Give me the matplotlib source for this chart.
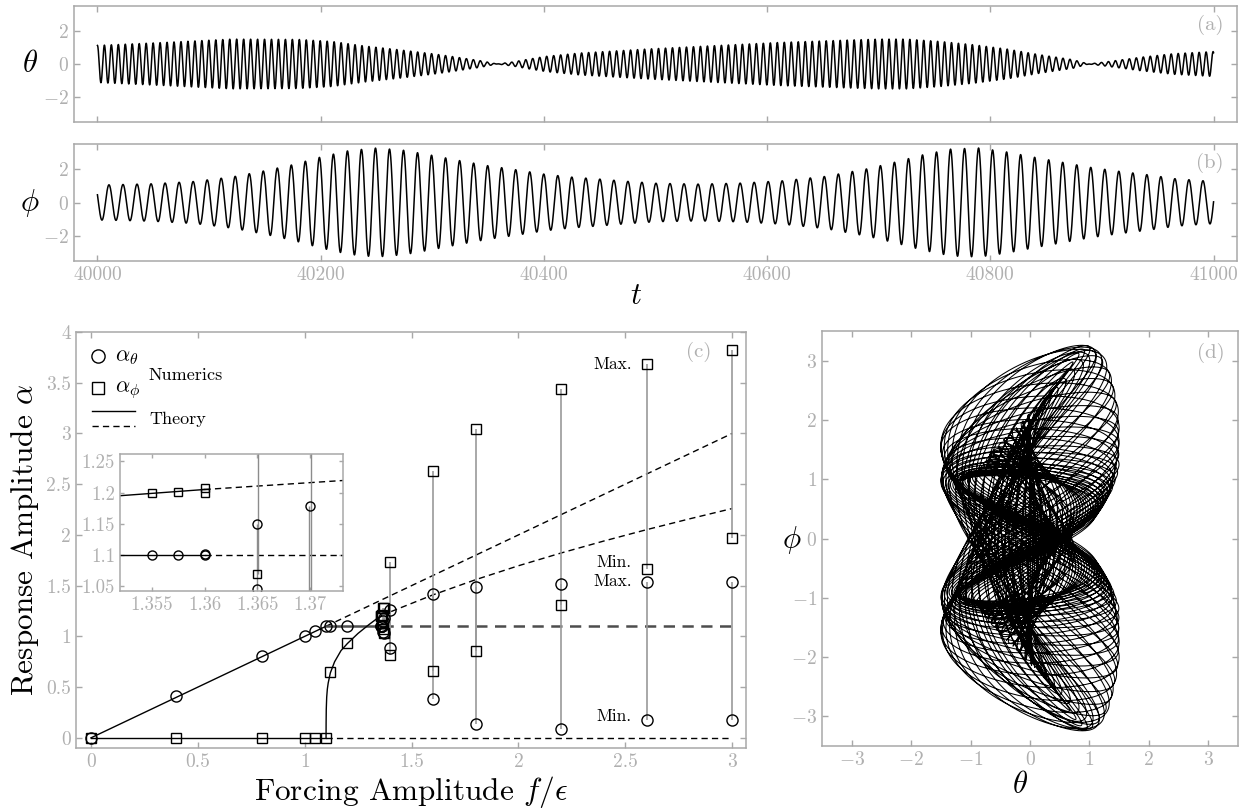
import numpy as np
import matplotlib
matplotlib.use("Agg")
import matplotlib.pyplot as plt

plt.rcParams.update({
    "font.family": "serif",
    "font.serif": ["cmr10"],
    "mathtext.fontset": "cm",
    "axes.formatter.use_mathtext": True,
})

# ---------------- data: time series (a), (b) ----------------
T_START, T_END = 40000, 41000
omega_theta = 1.0          # carrier frequency of theta (period ~6.3)
omega_phi = 0.5            # carrier frequency of phi (period ~12.6)

# signed envelope of theta  (time offset from 40000)
theta_env_t = [0, 60, 120, 180, 210, 240, 270, 300, 313, 343, 358, 372, 387, 402,
               432, 492, 551, 611, 671, 700, 725, 755, 785, 815, 844, 874, 888,
               904, 934, 964, 1000]
theta_env_a = [1.12, 1.30, 1.50, 1.48, 1.36, 1.08, 0.86, 0.62, 0.50, 0.20, 0.0,
               -0.12, -0.30, -0.46, -0.66, -0.90, -1.10, -1.30, -1.44, -1.50,
               -1.50, -1.36, -1.16, -0.90, -0.56, -0.26, 0.0, 0.13, 0.40, 0.62, 0.75]
# slowly drifting phase of theta (rad), estimated
theta_phase_t = [0, 250, 358, 600, 700, 780, 888, 1000]
theta_phase_v = [0.0, 1.83, 2.61, 3.43, 3.83, 4.63, 5.23, 5.73]

# envelope of phi
phi_env_t = [0, 12, 49, 87, 112, 124, 150, 175, 200, 225, 250, 275, 300, 325, 350,
             375, 400, 425, 450, 476, 501, 539, 576, 614, 652, 690, 715, 740, 765,
             790, 815, 840, 865, 890, 916, 941, 966, 991, 1000]
phi_env_a = [1.05, 1.06, 1.12, 1.26, 1.46, 1.57, 1.90, 2.26, 2.72, 3.10, 3.26, 3.12,
             2.82, 2.50, 2.20, 1.96, 1.70, 1.52, 1.40, 1.26, 1.15, 1.10, 1.16, 1.30,
             1.56, 2.02, 2.42, 2.86, 3.20, 3.26, 3.02, 2.70, 2.40, 2.10, 1.86, 1.66,
             1.42, 1.30, 1.27]
phi_phase_t = [0, 1000]
phi_phase_v = [1.115, 1.115]

# ---------------- data: panel (c) ----------------
f_theta = [0, 0.4, 0.8, 1.0, 1.05, 1.1, 1.12, 1.2, 1.355, 1.3575, 1.36, 1.36]
a_theta = [0, 0.41, 0.81, 1.0, 1.055, 1.1, 1.1, 1.1, 1.1, 1.1, 1.1, 1.102]
f_phi = [0, 0.4, 0.8, 1.0, 1.05, 1.1, 1.12, 1.2, 1.355, 1.3575, 1.36, 1.36]
a_phi = [0, 0, 0, 0, 0, 0, 0.65, 0.93, 1.199, 1.201, 1.199, 1.207]

f_qp = [1.365, 1.37, 1.4, 1.6, 1.8, 2.2, 2.6, 3.0]
theta_max = [1.15, 1.178, 1.257, 1.418, 1.487, 1.515, 1.535, 1.535]
theta_min = [1.045, 1.03, 0.885, 0.385, 0.135, 0.09, 0.175, 0.175]
phi_max = [1.275, 1.28, 1.734, 2.63, 3.04, 3.44, 3.68, 3.82]
phi_min = [1.07, 1.03, 0.815, 0.66, 0.855, 1.305, 1.665, 1.97]

# theory curves
th_lin_f = [0, 1.1]
th_lin_a = [0, 1.1]
th_lin_dash_f = [1.1, 3.0]
th_lin_dash_a = [1.1, 3.0]
th_sat_f = [1.1, 1.36]
th_sat_a = [1.1, 1.1]
th_sat_dash_f = [1.36, 3.0]
th_sat_dash_a = [1.1, 1.1]
ph_zero_f = [0, 1.1]
ph_zero_a = [0, 0]
ph_zero_dash_f = [1.1, 3.0]
ph_zero_dash_a = [0, 0]
ph_branch_f = [1.1, 1.1003, 1.101, 1.103, 1.106, 1.11, 1.12, 1.14, 1.17, 1.2,
               1.25, 1.3, 1.34, 1.352, 1.36]
ph_branch_a = [0, 0.15, 0.28, 0.40, 0.48, 0.54, 0.64, 0.75, 0.86, 0.93, 1.03,
               1.115, 1.178, 1.195, 1.205]
ph_branch_dash_f = [1.36, 1.3745, 1.4, 1.6, 1.8, 2.0, 2.2, 2.4, 2.6, 2.8, 3.0]
ph_branch_dash_a = [1.205, 1.221, 1.241, 1.409, 1.559, 1.696, 1.822, 1.94, 2.052,
                    2.158, 2.26]

# tick labels
ts_xticks = [40000, 40200, 40400, 40600, 40800, 41000]
ts_xlabels = ["40000", "40200", "40400", "40600", "40800", "41000"]
ts_yticks = [-2, 0, 2]
ts_ylabels = ["$-2$", "$0$", "$2$"]
c_xticks = [0, 0.5, 1, 1.5, 2, 2.5, 3]
c_xlabels = ["0", "0.5", "1", "1.5", "2", "2.5", "3"]
c_yticks = [0, 0.5, 1, 1.5, 2, 2.5, 3, 3.5, 4]
c_ylabels = ["0", "0.5", "1", "1.5", "2", "2.5", "3", "3.5", "4"]
in_xticks = [1.355, 1.36, 1.365, 1.37]
in_xlabels = ["1.355", "1.36", "1.365", "1.37"]
in_yticks = [1.05, 1.1, 1.15, 1.2, 1.25]
in_ylabels = ["1.05", "1.1", "1.15", "1.2", "1.25"]
d_ticks = [-3, -2, -1, 0, 1, 2, 3]
d_labels = ["$-3$", "$-2$", "$-1$", "$0$", "$1$", "$2$", "$3$"]

# ---------------- build signals ----------------
t = np.linspace(T_START, T_END, 40001)
tt = t - T_START
theta = np.interp(tt, theta_env_t, theta_env_a) * np.cos(
    omega_theta * tt + np.interp(tt, theta_phase_t, theta_phase_v))
phi = np.interp(tt, phi_env_t, phi_env_a) * np.cos(
    omega_phi * tt + np.interp(tt, phi_phase_t, phi_phase_v))

# ---------------- figure ----------------
W, H = 1255, 808
fig = plt.figure(figsize=(W / 100, H / 100), dpi=100)

FRAME = "#a8a8a8"
TICKLAB = "#b0b0b0"
TS = 14


def px_axes(l, r, top, bot):
    return fig.add_axes([l / W, 1 - bot / H, (r - l) / W, (bot - top) / H])


def style(ax, size=TS, length=4):
    for sp in ax.spines.values():
        sp.set_color(FRAME)
        sp.set_linewidth(1.1)
    ax.tick_params(direction="in", top=True, right=True, color=FRAME,
                   labelcolor=TICKLAB, labelsize=size, length=length, width=1)


ax_a = px_axes(74, 1237, 6, 122)
ax_b = px_axes(74, 1237, 144, 261)
for ax, y in ((ax_a, theta), (ax_b, phi)):
    ax.plot(t, y, color="black", lw=1.1)
    ax.set_xlim(39979, 41021)
    ax.set_ylim(-3.5, 3.5)
    ax.set_yticks(ts_yticks, ts_ylabels)
    style(ax)
ax_a.set_xticks(ts_xticks, [""] * len(ts_xticks))
ax_b.set_xticks(ts_xticks, ts_xlabels)
ax_a.text(0.988, 0.84, "(a)", transform=ax_a.transAxes, ha="right", va="center",
          color=TICKLAB, fontsize=15)
ax_b.text(0.988, 0.835, "(b)", transform=ax_b.transAxes, ha="right", va="center",
          color=TICKLAB, fontsize=15)
fig.text(30 / W, 1 - 64 / H, r"$\theta$", fontsize=22, ha="center", va="center")
fig.text(30 / W, 1 - 203 / H, r"$\phi$", fontsize=22, ha="center", va="center")
fig.text(636 / W, 1 - 296 / H, r"$t$", fontsize=22, ha="center", va="center")

# ---------------- panel (c) ----------------
ax_c = px_axes(76, 746, 332, 748)
DASH = (0, (4.5, 3))
ax_c.plot(th_lin_f, th_lin_a, color="black", lw=1.0)
ax_c.plot(th_lin_dash_f, th_lin_dash_a, color="black", lw=1.0, linestyle=DASH)
ax_c.plot(th_sat_f, th_sat_a, color="0.3", lw=1.8)
ax_c.plot(th_sat_dash_f, th_sat_dash_a, color="0.3", lw=1.8, linestyle=DASH)
ax_c.plot(ph_zero_f, ph_zero_a, color="black", lw=1.0)
ax_c.plot(ph_zero_dash_f, ph_zero_dash_a, color="black", lw=1.0, linestyle=DASH)
ax_c.plot(ph_branch_f, ph_branch_a, color="black", lw=1.0)
ax_c.plot(ph_branch_dash_f, ph_branch_dash_a, color="black", lw=1.0, linestyle=DASH)

ax_c.vlines(f_qp, theta_min, theta_max, color="0.6", lw=1.2)
ax_c.vlines(f_qp, phi_min, phi_max, color="0.6", lw=1.2)

mk_c = dict(linestyle="none", mfc="none", mec="black", mew=1.0)
ax_c.plot(f_theta, a_theta, marker="o", ms=8, **mk_c)
ax_c.plot(f_phi, a_phi, marker="s", ms=7.5, **mk_c)
ax_c.plot(f_qp, theta_min, marker="o", ms=8, **mk_c)
ax_c.plot(f_qp, theta_max, marker="o", ms=8, **mk_c)
ax_c.plot(f_qp, phi_min, marker="s", ms=7.5, **mk_c)
ax_c.plot(f_qp, phi_max, marker="s", ms=7.5, **mk_c)

ax_c.set_xlim(-0.07, 3.065)
ax_c.set_ylim(-0.1, 4.0)
ax_c.set_xticks(c_xticks, c_xlabels)
ax_c.set_yticks(c_yticks, c_ylabels)
style(ax_c)
ax_c.set_xlabel(r"Forcing Amplitude $f/\epsilon$", fontsize=22.5, labelpad=2)
ax_c.set_ylabel(r"Response Amplitude $\alpha$", fontsize=22.5, labelpad=4)
ax_c.text(0.949, 0.951, "(c)", transform=ax_c.transAxes, ha="right", va="center",
          color=TICKLAB, fontsize=15)

for txt, a in (("Max.", 3.68), ("Min.", 1.73), ("Max.", 1.54), ("Min.", 0.21)):
    ax_c.text(2.53, a, txt, ha="right", va="center", fontsize=12.5)

# legend drawn by hand
tr = ax_c.transAxes
ax_c.plot([0.033], [0.942], marker="o", ms=9.5, transform=tr, **mk_c)
ax_c.plot([0.033], [0.865], marker="s", ms=9, transform=tr, **mk_c)
ax_c.text(0.058, 0.940, r"$\alpha_\theta$", transform=tr, fontsize=16, va="center")
ax_c.text(0.058, 0.860, r"$\alpha_\phi$", transform=tr, fontsize=16, va="center")
ax_c.text(0.108, 0.897, "Numerics", transform=tr, fontsize=13, va="center")
ax_c.plot([0.024, 0.088], [0.810, 0.810], color="black", lw=1.0, transform=tr)
ax_c.plot([0.024, 0.088], [0.773, 0.773], color="black", lw=1.0, linestyle=DASH,
          transform=tr)
ax_c.text(0.110, 0.790, "Theory", transform=tr, fontsize=13, va="center")

# ---------------- inset ----------------
ax_i = px_axes(120, 343, 454, 591)
ax_i.plot(th_sat_f, th_sat_a, color="black", lw=1.0)
ax_i.plot(th_sat_dash_f, th_sat_dash_a, color="black", lw=1.0, linestyle=DASH)
ax_i.plot(ph_branch_f, ph_branch_a, color="black", lw=1.0)
ax_i.plot(ph_branch_dash_f, ph_branch_dash_a, color="black", lw=1.0, linestyle=DASH)
ax_i.vlines(np.array(f_qp) - 0.00008, theta_min, theta_max, color="0.55", lw=1.0)
ax_i.vlines(np.array(f_qp) + 0.00008, phi_min, phi_max, color="0.55", lw=1.0)
mk_i = dict(linestyle="none", mfc="none", mec="black", mew=1.0)
ax_i.plot(f_theta, a_theta, marker="o", ms=6.5, **mk_i)
ax_i.plot(f_phi, a_phi, marker="s", ms=6, **mk_i)
ax_i.plot(f_qp, theta_min, marker="o", ms=6.5, **mk_i)
ax_i.plot(f_qp, theta_max, marker="o", ms=6.5, **mk_i)
ax_i.plot(f_qp, phi_min, marker="s", ms=6, **mk_i)
ax_i.plot(f_qp, phi_max, marker="s", ms=6, **mk_i)
ax_i.set_xlim(1.352, 1.3731)
ax_i.set_ylim(1.042, 1.262)
ax_i.set_xticks(in_xticks, in_xlabels)
ax_i.set_yticks(in_yticks, in_ylabels)
style(ax_i, size=13.5, length=3)

# ---------------- panel (d) ----------------
ax_d = px_axes(822, 1238, 331, 746)
ax_d.plot(theta, phi, color="black", lw=0.75)
ax_d.set_xlim(-3.5, 3.5)
ax_d.set_ylim(-3.5, 3.5)
ax_d.set_xticks(d_ticks, d_labels)
ax_d.set_yticks(d_ticks, d_labels)
style(ax_d)
ax_d.text(0.968, 0.946, "(d)", transform=ax_d.transAxes, ha="right", va="center",
          color=TICKLAB, fontsize=15)
fig.text(792 / W, 1 - 540 / H, r"$\phi$", fontsize=22, ha="center", va="center")
fig.text(1020 / W, 1 - 785 / H, r"$\theta$", fontsize=22, ha="center", va="center")

fig.savefig("out.png", dpi=100)
